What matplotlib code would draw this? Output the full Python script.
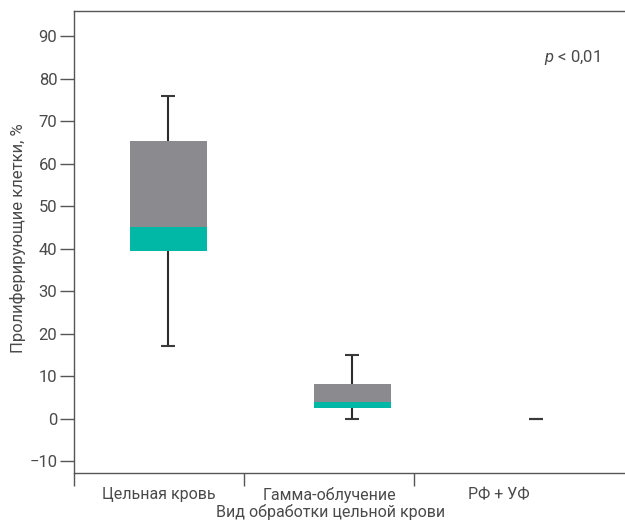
import matplotlib.pyplot as plt

plt.rcParams['font.family'] = ['Roboto', 'DejaVu Sans']
plt.rcParams['mathtext.fontset'] = 'custom'
plt.rcParams['mathtext.it'] = 'Roboto:italic'
plt.rcParams['mathtext.rm'] = 'Roboto'

# Категории и статистика (процент пролиферирующих клеток)
groups = ["Цельная кровь", "Гамма-облучение", "РФ + УФ"]
whisker_low = [17, 0, 0]
q1 = [39.5, 2.6, 0]
median = [45.1, 3.8, 0]
q3 = [65.3, 8.2, 0]
whisker_high = [76, 15, 0]

box_pos = [0.553, 1.635, 2.718]
label_pos = [0.5, 1.5, 2.5]
box_w = 0.453
cap_w = 0.08

grey = "#8b8b8f"
teal = "#00b8a5"
edge = "#555555"
text_c = "#4a4a4a"

fig = plt.figure(figsize=(6.25, 5.22), dpi=100)
ax = fig.add_axes([0.1184, 0.0939, 0.8816, 0.885])

for i, x in enumerate(box_pos):
    if q3[i] > q1[i]:
        ax.vlines(x, whisker_low[i], q1[i], color="#2b2b2b", lw=1.5, zorder=2)
        ax.vlines(x, q3[i], whisker_high[i], color="#2b2b2b", lw=1.5, zorder=2)
        ax.bar(x, median[i] - q1[i], bottom=q1[i], width=box_w, color=teal, zorder=3)
        ax.bar(x, q3[i] - median[i], bottom=median[i], width=box_w, color=grey, zorder=3)
    for y in (whisker_low[i], whisker_high[i]):
        ax.hlines(y, x - cap_w / 2, x + cap_w / 2, color="#3a3a3a", lw=1.5, zorder=4)

ax.set_xlim(0, 3.24)
ax.set_ylim(-12.8, 95.9)
ax.set_yticks(range(-10, 91, 10))
ax.set_xticks([0, 1, 2])
ax.set_xticklabels([])
ax.set_xticks(label_pos, minor=True)
ax.set_xticklabels(groups, minor=True)
ax.tick_params(axis="x", which="major", length=9, width=1, color=edge, direction="out")
ax.tick_params(axis="x", which="minor", length=0, pad=10, labelsize=11.5, labelcolor=text_c)
ax.tick_params(axis="y", length=10, width=1, color=edge, pad=2, labelsize=12, labelcolor=text_c)

for side in ("left", "bottom", "top"):
    ax.spines[side].set_color(edge)
    ax.spines[side].set_linewidth(1)
ax.spines["right"].set_visible(False)

ax.set_ylabel("Пролиферирующие клетки, %", fontsize=12, color=text_c)
ax.yaxis.set_label_coords(-0.088, 0.508)
ax.set_xlabel("Вид обработки цельной крови", fontsize=11.5, color=text_c)
ax.xaxis.set_label_coords(0.465, -0.067)

ax.text(0.955, 0.9, r"$p$ < 0,01", transform=ax.transAxes, ha="right", va="center",
        fontsize=12, color=text_c)

fig.savefig("out.png", dpi=100)
